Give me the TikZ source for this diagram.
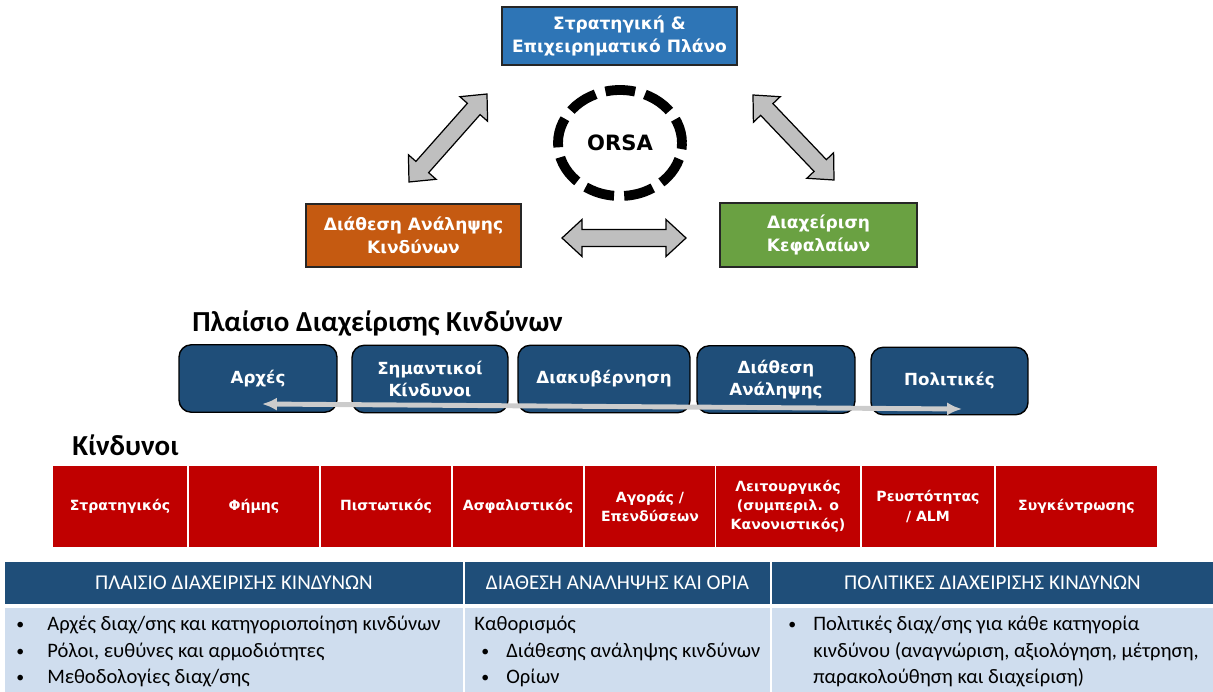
\documentclass[tikz,border=0pt]{standalone}
\usepackage{fontspec}
\newfontfamily\vfont{DejaVu Sans}
\newfontfamily\cfont{Carlito}
\usetikzlibrary{shapes.geometric,arrows.meta,calc}

\definecolor{planblue}{HTML}{2E75B6}
\definecolor{appetiteorange}{HTML}{C55A11}
\definecolor{capitalgreen}{HTML}{6AA142}
\definecolor{frameblue}{HTML}{1F4E79}
\definecolor{riskred}{HTML}{C00000}
\definecolor{tablebody}{HTML}{CFDDEE}
\definecolor{arrowgray}{HTML}{BFBFBF}
\definecolor{arrowlight}{HTML}{CCCCCC}

\tikzset{
  cyclebox/.style={draw=black!85, line width=0.9pt, text=white, align=center,
    inner sep=0pt, font=\vfont\bfseries\fontsize{9.7}{13}\selectfont},
  orsaring/.style={ellipse, draw=black, line width=5.6pt,
    dash pattern=on 17pt off 5.8pt, dash phase=2.8pt, inner sep=0pt,
    minimum width=2.48cm, minimum height=2.12cm,
    font=\vfont\bfseries\fontsize{12}{14}\selectfont},
  blockarrow/.style={draw=black, line width=0.7pt, fill=arrowgray, line join=miter},
  fwbox/.style={rounded corners=7pt, draw=black, line width=0.8pt, fill=frameblue,
    text=white, align=center, inner sep=0pt, minimum height=1.35cm,
    font=\vfont\bfseries\fontsize{9.5}{12.5}\selectfont},
  fwarrow/.style={{Latex[length=8.5pt,width=7.5pt]}-{Latex[length=8.5pt,width=7.5pt]},
    line width=2.8pt, draw=arrowlight},
  riskbox/.style={fill=riskred, text=white, align=center, inner sep=0pt,
    minimum height=1.62cm, font=\vfont\bfseries\fontsize{8}{11}\selectfont},
  sectitle/.style={anchor=base west, inner sep=0pt,
    font=\cfont\bfseries\fontsize{16.5}{18}\selectfont},
  headcell/.style={fill=frameblue, text=white, inner sep=0pt, minimum height=0.84cm,
    font=\cfont\fontsize{12}{14}\selectfont},
  bodycell/.style={fill=tablebody, inner sep=0pt, minimum height=1.68cm},
  bodytxt/.style={anchor=base west, inner sep=0pt, font=\cfont\fontsize{11.7}{14}\selectfont},
  bullettxt/.style={anchor=base west, inner sep=0pt, font=\cfont\fontsize{9}{14}\selectfont}
}

% Block double arrow between two named coordinates
\newcommand\dblarrow[2]{%
  \coordinate (#1h) at ($(#1)!0.4cm!(#2)$);
  \coordinate (#2h) at ($(#2)!0.4cm!(#1)$);
  \draw[blockarrow] (#1)
    -- ($(#1h)!0.37cm!90:(#2)$) -- ($(#1h)!0.17cm!90:(#2)$)
    -- ($(#2h)!0.17cm!-90:(#1)$) -- ($(#2h)!0.37cm!-90:(#1)$)
    -- (#2)
    -- ($(#2h)!0.37cm!90:(#1)$) -- ($(#2h)!0.17cm!90:(#1)$)
    -- ($(#1h)!0.17cm!-90:(#2)$) -- ($(#1h)!0.37cm!-90:(#2)$)
    -- cycle;}

\begin{document}
\begin{tikzpicture}[x=0.02cm, y=-0.02cm, >=latex]

    % Fixes the page to the size of the reference
    \useasboundingbox (0,0) rectangle (1213,692);

    % Draws the three boxes of the ORSA cycle
    \node[cyclebox, fill=planblue, minimum width=4.7cm, minimum height=1.16cm]
        (plan) at (619.5,36) {Στρατηγική \&\\Επιχειρηματικό Πλάνο};
    \node[cyclebox, fill=appetiteorange, minimum width=4.3cm, minimum height=1.26cm]
        (appetite) at (413.5,235.5) {Διάθεση Ανάληψης\\Κινδύνων};
    \node[cyclebox, fill=capitalgreen, minimum width=3.94cm, minimum height=1.28cm]
        (capital) at (818.5,235) {Διαχείριση\\Κεφαλαίων};

    % Draws the dashed ring in the middle
    \node[orsaring] (orsa) at (620,143) {ORSA};

    % Ends of the block arrows between the boxes
    \coordinate (leftlow) at (409,182);
    \coordinate (lefthigh) at (487,94);
    \coordinate (righthigh) at (753,95);
    \coordinate (rightlow) at (834,180);
    \coordinate (midleft) at (562,238);
    \coordinate (midright) at (686,238);

    % Draws the block arrows
    \dblarrow{leftlow}{lefthigh}
    \dblarrow{righthigh}{rightlow}
    \dblarrow{midleft}{midright}

    % Title of the framework row
    \node[sectitle] (fwtitle) at (192,332) {Πλαίσιο Διαχείρισης Κινδύνων};

    % For each part of the framework draws a rounded box
    \foreach \n/\cx/\cy/\w/\txt in {
        arxes/258/378.5/3.16/{Αρχές},
        simantikoi/430/379/3.12/{Σημαντικοί\\Κίνδυνοι},
        diakyb/604/379/3.44/{Διακυβέρνηση},
        diathesi/776/379.5/3.16/{Διάθεση\\Ανάληψης},
        politikes/949.5/381/3.14/{Πολιτικές}} {
        \node[fwbox, minimum width=\w cm] (\n) at (\cx,\cy) {\txt};
    }

    % Draws the light arrow across the framework boxes
    \coordinate (fwleft) at (262,404);
    \coordinate (fwright) at (962,409);
    \draw[fwarrow] (fwleft) -- (fwright);

    % Title of the risks row
    \node[sectitle] (risktitle) at (72,455) {Κίνδυνοι};

    % For each risk draws a red box
    \foreach \n/\xa/\xb/\txt in {
        strat/53/187/{Στρατηγικός},
        fimi/189/319/{Φήμης},
        pist/321/451/{Πιστωτικός},
        asfal/453/583/{Ασφαλιστικός},
        agoras/585/715/{Αγοράς /\\Επενδύσεων},
        leitour/716/860/{Λειτουργικός\\(συμπεριλ. ο\\Κανονιστικός)},
        reust/862/994/{Ρευστότητας\\/ ALM},
        sygk/996/1157/{Συγκέντρωσης}} {
        \node[riskbox, minimum width={(\xb-\xa)*0.02cm}] (\n) at ({(\xa+\xb)/2},506.5) {\txt};
    }

    % Draws the header and the body of the table
    \node[headcell, minimum width=9.16cm] (head1) at (234,583) {ΠΛΑΙΣΙΟ ΔΙΑΧΕΙΡΙΣΗΣ ΚΙΝΔΥΝΩΝ};
    \node[headcell, minimum width=6.1cm] (head2) at (617.5,583) {ΔΙΑΘΕΣΗ ΑΝΑΛΗΨΗΣ ΚΑΙ ΟΡΙΑ};
    \node[headcell, minimum width=8.82cm] (head3) at (992.5,583) {ΠΟΛΙΤΙΚΕΣ ΔΙΑΧΕΙΡΙΣΗΣ ΚΙΝΔΥΝΩΝ};
    \node[bodycell, minimum width=9.16cm] (body1) at (234,650) {};
    \node[bodycell, minimum width=6.1cm] (body2) at (617.5,650) {};
    \node[bodycell, minimum width=8.82cm] (body3) at (992.5,650) {};

    % First column
    \node[bullettxt] (b1a) at (16,629) {•};
    \node[bodytxt] (t1a) at (47,630) {Αρχές διαχ/σης και κατηγοριοποίηση κινδύνων};
    \node[bullettxt] (b1b) at (16,656) {•};
    \node[bodytxt] (t1b) at (47,657) {Ρόλοι, ευθύνες και αρμοδιότητες};
    \node[bullettxt] (b1c) at (16,682) {•};
    \node[bodytxt] (t1c) at (47,683) {Μεθοδολογίες διαχ/σης};

    % Second column
    \node[bodytxt] (t2a) at (474,630) {Καθορισμός};
    \node[bullettxt] (b2b) at (481,656) {•};
    \node[bodytxt] (t2b) at (506,657) {Διάθεσης ανάληψης κινδύνων};
    \node[bullettxt] (b2c) at (481,682) {•};
    \node[bodytxt] (t2c) at (506,683) {Ορίων};

    % Third column
    \node[bullettxt] (b3a) at (788,629) {•};
    \node[bodytxt] (t3a) at (813,630) {Πολιτικές διαχ/σης για κάθε κατηγορία};
    \node[bodytxt] (t3b) at (813,657) {κινδύνου (αναγνώριση, αξιολόγηση, μέτρηση,};
    \node[bodytxt] (t3c) at (813,683) {παρακολούθηση και διαχείριση)};

\end{tikzpicture}
\end{document}
